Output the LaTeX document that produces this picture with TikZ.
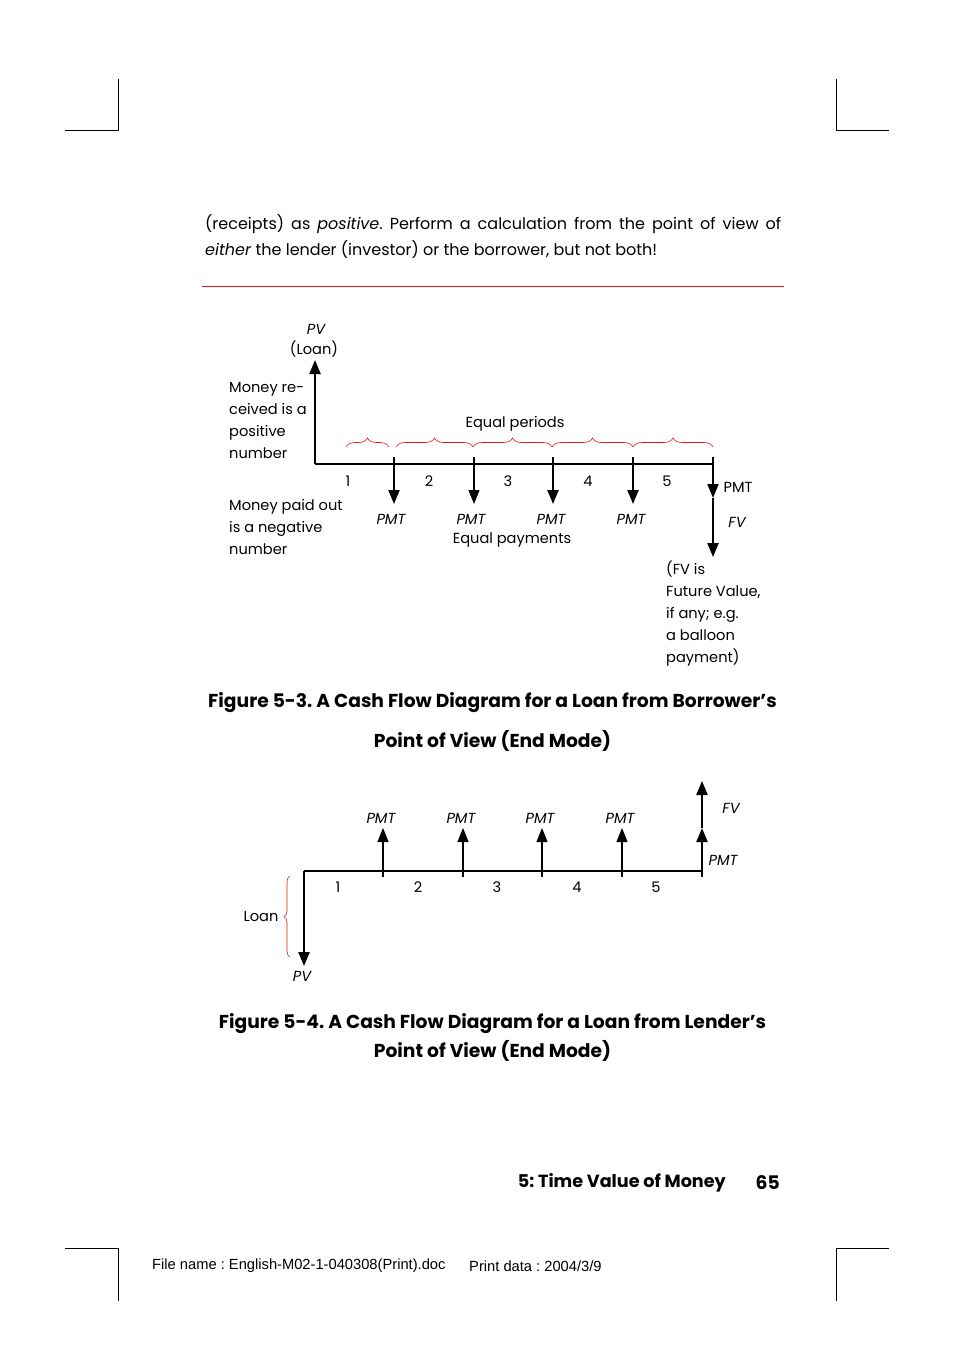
\documentclass[tikz,border=0pt]{standalone}
\usepackage{fontspec}
\setmainfont{Poppins}
\newfontfamily\arialfont{Liberation Sans}
\usetikzlibrary{arrows.meta, decorations.pathreplacing}
\definecolor{RuleRed}{RGB}{240,20,20}
\frenchspacing

\begin{document}
\begin{tikzpicture}[x=1pt, y=-1pt,
  axis/.style={line width=2pt},
  flow/.style={line width=2.2pt, -{Triangle[length=14pt, width=11pt]}},
  thinflow/.style={line width=1.1pt, -{Triangle[length=14pt, width=11pt]}},
  lbl/.style={font=\fontsize{14.6}{21.8}\selectfont, inner sep=0pt},
  ilbl/.style={font=\fontsize{14.6}{21.8}\selectfont\itshape, inner sep=0pt},
  caption/.style={font=\fontsize{18.7}{24}\selectfont\bfseries, inner sep=0pt},
  footnote/.style={anchor=west, inner sep=0pt, font=\arialfont\fontsize{14.7}{17}\selectfont},
  period/.style={draw=RuleRed, line width=0.6pt, decorate, decoration={brace, amplitude=9pt}},
  crop/.style={line width=1pt}]
  \useasboundingbox[fill=white] (0,0) rectangle (954,1348);

  % Crop marks
  \draw[crop] (65,131) -- (118,131) -- (118,79);
  \draw[crop] (889,131) -- (836,131) -- (836,79);
  \draw[crop] (65,1248) -- (118,1248) -- (118,1301);
  \draw[crop] (889,1248) -- (836,1248) -- (836,1301);

  % Running text
  \node[anchor=west, text width=576pt, align=justify, inner sep=0pt, font=\fontsize{16}{26}\selectfont] (intro) at (205,237)
    {(receipts) as \textit{positive}. Perform a calculation from the point of view of\linebreak
     \textit{either} the lender (investor) or the borrower, but not both!};
  \draw[RuleRed, line width=0.9pt] (202,286) -- (784,286);

  % Figure 5-3: borrower
  \coordinate (b0) at (315,464);
  \coordinate (bEnd) at (713,464);
  \coordinate (bPV) at (315,360);
  \draw[axis] (b0) -- (bEnd);
  \draw[flow] (b0) -- (bPV);
  \node[ilbl] (bPVlbl) at (316,329) {PV};
  \node[lbl] (bLoan) at (314,349) {(Loan)};

  \coordinate (bt1) at (394,457); \coordinate (ba1) at (394,504);
  \coordinate (bt2) at (474,457); \coordinate (ba2) at (474,504);
  \coordinate (bt3) at (553,457); \coordinate (ba3) at (553,504);
  \coordinate (bt4) at (633,457); \coordinate (ba4) at (633,504);
  \coordinate (bt5) at (713,457); \coordinate (ba5) at (713,498); \coordinate (bFV) at (713,557);
  \draw[flow] (bt1) -- (ba1);
  \draw[thinflow] (bt2) -- (ba2);
  \draw[flow] (bt3) -- (ba3);
  \draw[flow] (bt4) -- (ba4);
  \draw[flow] (bt5) -- (ba5);
  \draw[flow] (ba5) -- (bFV);

  % Equal periods
  \draw[period] (346,447) -- (389,447);
  \draw[period] (396,447) -- (473,447);
  \draw[period] (473,447) -- (552,447);
  \draw[period] (552,447) -- (633,447);
  \draw[period] (633,447) -- (713,447);
  \node[lbl] (bPeriods) at (515,424) {Equal periods};

  \node[lbl] (bn1) at (348,481) {1};
  \node[lbl] (bn2) at (429,481) {2};
  \node[lbl] (bn3) at (508,481) {3};
  \node[lbl] (bn4) at (588,481) {4};
  \node[lbl] (bn5) at (667,481) {5};

  \node[ilbl] (bp1) at (391,519) {PMT};
  \node[ilbl] (bp2) at (471,519) {PMT};
  \node[ilbl] (bp3) at (551,519) {PMT};
  \node[ilbl] (bp4) at (631,519) {PMT};
  \node[lbl] (bPayments) at (512,540) {Equal payments};
  \node[lbl] (bp5) at (738,487) {PMT};
  \node[ilbl] (bFVlbl) at (737,522) {FV};

  \node[lbl, anchor=west, align=left] (bIn) at (229,420.5) {Money re-\\ceived is a\\positive\\number};
  \node[lbl, anchor=west, align=left] (bOut) at (229,527) {Money paid out\\is a negative\\number};
  \node[lbl, anchor=west, align=left] (bFVnote) at (666,613.5) {(FV is\\Future Value,\\if any; e.g.\\a balloon\\payment)};

  \node[caption] (cap3a) at (492.5,703) {Figure 5-3. A Cash Flow Diagram for a Loan from Borrower’s};
  \node[caption] (cap3b) at (492.5,741) {Point of View (End Mode)};

  % Figure 5-4: lender
  \coordinate (l0) at (304,871);
  \coordinate (lEnd) at (702,871);
  \coordinate (lPV) at (304,966);
  \draw[axis] (l0) -- (lEnd);
  \draw[flow] (l0) -- (lPV);
  \node[ilbl] (lPVlbl) at (302,976) {PV};

  \coordinate (lt1) at (383,877); \coordinate (la1) at (383,828);
  \coordinate (lt2) at (463,877); \coordinate (la2) at (463,828);
  \coordinate (lt3) at (542,877); \coordinate (la3) at (542,828);
  \coordinate (lt4) at (622,877); \coordinate (la4) at (622,828);
  \coordinate (lt5) at (702,877); \coordinate (la5) at (702,828); \coordinate (lFV) at (702,781);
  \draw[thinflow] (lt1) -- (la1);
  \draw[thinflow] (lt2) -- (la2);
  \draw[thinflow] (lt3) -- (la3);
  \draw[thinflow] (lt4) -- (la4);
  \draw[flow] (lt5) -- (la5);
  \draw[flow] (la5) -- (lFV);

  \node[ilbl] (lp1) at (381,818) {PMT};
  \node[ilbl] (lp2) at (461,818) {PMT};
  \node[ilbl] (lp3) at (540,818) {PMT};
  \node[ilbl] (lp4) at (620,818) {PMT};
  \node[ilbl] (lFVlbl) at (731,808) {FV};
  \node[ilbl] (lp5) at (723,860) {PMT};

  \node[lbl] (ln1) at (338,887) {1};
  \node[lbl] (ln2) at (418,887) {2};
  \node[lbl] (ln3) at (497,887) {3};
  \node[lbl] (ln4) at (577,887) {4};
  \node[lbl] (ln5) at (656,887) {5};

  \draw[period, decoration={amplitude=6pt}] (290,957) -- (290,876);
  \node[lbl] (lLoan) at (261,916) {Loan};

  \node[caption] (cap4a) at (492.5,1024) {Figure 5-4. A Cash Flow Diagram for a Loan from Lender’s};
  \node[caption] (cap4b) at (492.5,1051) {Point of View (End Mode)};

  % Footer
  \node[caption, anchor=east, font=\fontsize{17.6}{22}\selectfont\bfseries] (chapter) at (726,1183) {5: Time Value of Money};
  \node[caption, anchor=east] (page) at (780,1183) {65};
  \node[footnote] (fname) at (152,1266) {File name : English-M02-1-040308(Print).doc};
  \node[footnote] (pdate) at (469,1266) {Print data : 2004/3/9};
\end{tikzpicture}
\end{document}
